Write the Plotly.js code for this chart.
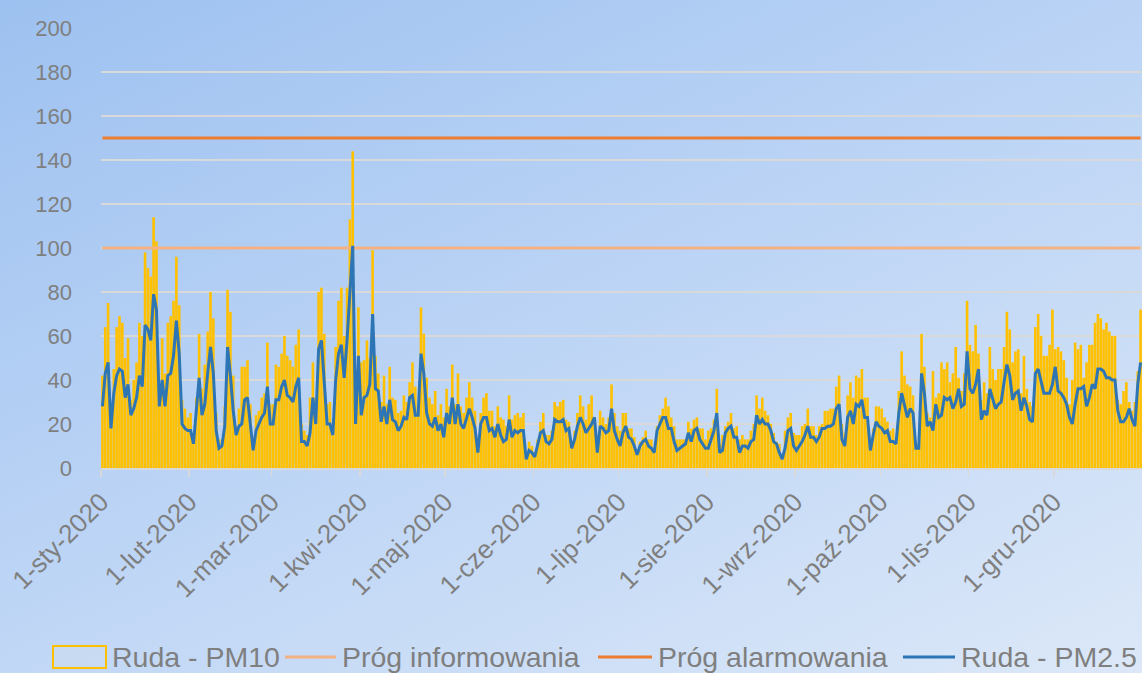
<!DOCTYPE html>
<html><head><meta charset="utf-8">
<script src="https://cdn.plot.ly/plotly-3.0.1.min.js"></script>
<style>
html,body{margin:0;padding:0;}
#chart{width:1142px;height:673px;background:linear-gradient(155deg,#9DC1F0 0%,#BAD3F5 45%,#DCE8F8 100%);}
</style></head><body><div id="chart"></div>
<script>
// Daily PM10 (Ruda) 2020
const pm10 = [
42,64,75,25,45,64,69,66,50,59,
31,40,48,66,60,98,91,87,114,103,
30,59,43,66,69,76,96,74,31,27,
23,25,16,32,61,36,47,62,80,68,
25,13,13,28,81,71,42,19,27,46,
46,49,29,12,24,26,32,34,57,29,
29,47,46,52,60,51,49,46,56,63,
20,17,15,32,48,32,80,82,61,29,
30,17,55,76,82,60,82,113,144,28,
73,48,49,58,50,99,51,43,30,42,
29,46,32,31,25,26,33,30,39,48,
37,28,73,61,41,32,29,35,24,29,
23,36,28,47,29,43,28,25,32,39,
32,26,8,25,32,34,26,26,19,28,
23,22,19,33,22,24,25,23,25,5,
12,10,7,13,21,25,15,15,17,30,
28,30,31,22,21,12,17,25,33,28,
22,29,33,23,10,26,23,20,23,38,
25,19,17,25,25,18,18,14,8,12,
14,17,13,13,9,19,24,27,32,28,
23,19,13,13,13,13,21,18,22,23,
18,18,13,17,18,22,36,11,15,19,
21,25,18,19,13,15,13,13,17,20,
33,27,32,26,24,20,16,12,11,4,
17,23,25,16,15,15,19,20,27,19,
19,15,19,20,26,26,27,27,37,42,
20,16,33,39,32,42,41,45,32,32,
13,18,28,28,27,23,21,17,18,12,
35,53,42,38,37,33,11,11,61,46,
25,23,44,32,34,48,45,48,39,43,
55,41,35,43,76,56,53,65,52,31,
39,34,55,45,40,45,45,55,71,63,
48,53,54,34,51,36,30,28,64,70,
60,51,51,56,72,54,55,53,49,41,
29,40,57,54,56,41,48,56,56,66,
70,68,63,66,62,60,60,31,29,35,
39,30,26,30,44,72
];
// Daily PM2.5 (Ruda) 2020
const pm25 = [
28,43,48,18,34,42,45,44,32,38,
24,27,32,42,37,65,63,58,79,72,
28,40,28,42,43,51,67,52,20,18,
17,17,11,26,41,24,29,43,55,43,
17,9,10,19,55,42,26,15,19,20,
31,32,19,8,17,20,23,25,37,20,
20,31,31,37,40,33,32,30,37,41,
12,12,10,16,32,20,54,58,37,20,
20,15,40,52,56,41,58,81,101,20,
51,24,32,33,38,70,36,35,21,28,
20,31,22,21,17,19,23,22,32,33,
24,24,52,43,25,20,19,23,17,20,
14,25,20,32,20,29,20,18,22,27,
23,18,7,20,23,23,17,18,14,20,
15,12,13,22,14,17,16,17,17,4,
8,7,5,10,16,17,12,11,13,22,
21,21,22,17,18,9,13,19,23,20,
16,18,20,23,7,19,18,16,17,27,
17,13,10,16,19,14,13,10,6,10,
12,13,10,9,7,17,20,23,23,18,
18,12,8,9,10,11,16,12,17,18,
13,11,9,9,13,17,25,7,8,16,
18,19,14,14,7,10,10,9,12,13,
24,20,22,20,20,17,12,11,7,4,
9,17,18,10,8,10,12,15,19,14,
14,12,14,18,18,19,19,20,27,29,
13,10,23,26,20,29,28,31,23,23,
8,15,21,19,18,16,17,12,12,11,
25,34,29,23,27,25,9,9,43,34,
19,21,17,29,23,24,32,31,32,27,
30,36,28,29,53,36,34,38,45,22,
26,24,36,31,27,29,30,39,47,42,
31,34,35,26,32,28,22,21,43,45,
39,34,34,34,38,46,35,34,32,29,
23,20,29,36,36,37,28,32,38,36,
45,45,44,41,41,40,40,26,21,21,
23,27,22,19,38,48
];
const infoThreshold = 100;
const alarmThreshold = 150;
const monthTickLabels = ['1-sty-2020','1-lut-2020','1-mar-2020','1-kwi-2020','1-maj-2020','1-cze-2020',
  '1-lip-2020','1-sie-2020','1-wrz-2020','1-paź-2020','1-lis-2020','1-gru-2020'];
const seriesNames = ['Ruda - PM10','Próg informowania','Próg alarmowania','Ruda - PM2.5'];
const seriesColors = ['#FFC000','#F4B183','#ED7D31','#2E75B6'];

const iso = d => d.toISOString().slice(0,10);
const dates = pm10.map((_, i) => iso(new Date(Date.UTC(2020, 0, 1 + i))) + ' 12:00');
const monthTicks = monthTickLabels.map((_, m) => iso(new Date(Date.UTC(2020, m, 1))));

const traces = [
  {type:'bar', x:dates, y:pm10, name:seriesNames[0], marker:{color:seriesColors[0], line:{width:0}}},
  {type:'scatter', mode:'lines', x:dates, y:dates.map(()=>infoThreshold), name:seriesNames[1], line:{color:seriesColors[1], width:3}},
  {type:'scatter', mode:'lines', x:dates, y:dates.map(()=>alarmThreshold), name:seriesNames[2], line:{color:seriesColors[2], width:3}},
  {type:'scatter', mode:'lines', x:dates, y:pm25, name:seriesNames[3], line:{color:seriesColors[3], width:3}}
];

// Legend drawn manually (pixel layout converted to paper coordinates)
const L = 101, T = 28, W = 1041, H = 440;
const px = x => (x - L) / W;
const py = y => (T + H - y) / H;
const legY = 657;
const legendItems = [
  {kind:'box',  x0:53,  x1:106, tx:110},
  {kind:'line', x0:285, x1:336, tx:340},
  {kind:'line', x0:598, x1:652, tx:656},
  {kind:'line', x0:903, x1:955, tx:959}
];
const shapes = [], annotations = [];
legendItems.forEach((it, k) => {
  if (it.kind === 'box') {
    shapes.push({type:'rect', xref:'paper', yref:'paper', x0:px(it.x0), x1:px(it.x1), y0:py(legY+11), y1:py(legY-11),
      line:{color:seriesColors[k], width:2}, fillcolor:'rgba(205,218,238,0.55)'});
  } else {
    shapes.push({type:'line', xref:'paper', yref:'paper', x0:px(it.x0), x1:px(it.x1), y0:py(legY), y1:py(legY),
      line:{color:seriesColors[k], width:3}});
  }
  annotations.push({xref:'paper', yref:'paper', x:px(it.tx), y:py(legY), xanchor:'left', yanchor:'middle',
    text:seriesNames[k], showarrow:false, font:{size:28.5, color:'#7F7F7F'}});
});

const layout = {
  width:1142, height:673,
  margin:{l:101, r:0, t:28, b:205, pad:0},
  paper_bgcolor:'rgba(0,0,0,0)', plot_bgcolor:'rgba(0,0,0,0)',
  bargap:0.08,
  font:{family:'Liberation Sans, Arial, sans-serif', color:'#7F7F7F'},
  showlegend:false,
  xaxis:{type:'date', range:['2020-01-01','2021-01-01'], tickvals:monthTicks, ticktext:monthTickLabels,
    tickangle:-45, tickfont:{size:26, color:'#7F7F7F'}, ticks:'outside', ticklen:7, tickcolor:'#D9D9D9', tickwidth:1.5,
    showline:true, linecolor:'#D9D9D9', linewidth:1.5, showgrid:false, zeroline:false},
  yaxis:{range:[0,200], tick0:0, dtick:20, tickfont:{size:22, color:'#7F7F7F'}, gridcolor:'#D9D9D9', gridwidth:1.5,
    showline:false, zeroline:false, ticks:'', ticklabelstandoff:28},
  shapes:shapes, annotations:annotations
};
Plotly.newPlot('chart', traces, layout, {staticPlot:true});
</script></body></html>
